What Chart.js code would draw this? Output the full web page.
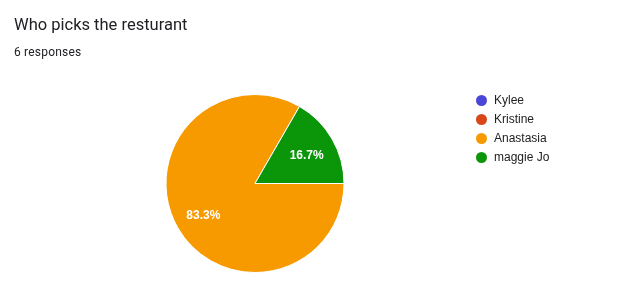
<!DOCTYPE html>
<html>
<head>
<meta charset="utf-8">
<script src="https://cdn.jsdelivr.net/npm/chart.js@4"></script>
<style>
  html, body { margin: 0; padding: 0; background: #fff; }
  #wrap { position: relative; width: 619px; height: 299px; }
  #title { position: absolute; left: 14px; top: 15px; font: 400 16.5px Roboto, Arial, sans-serif; color: #202124; }
  #sub { position: absolute; left: 14px; top: 45px; font: 400 12px Roboto, Arial, sans-serif; color: #202124; letter-spacing: 0.2px; }
  canvas { position: absolute; left: 0; top: 0; }
</style>
</head>
<body>
<div id="wrap">
  <canvas id="pie" width="619" height="299"></canvas>
  <div id="title">Who picks the resturant</div>
  <div id="sub">6 responses</div>
</div>
<script>
const names = ['Kylee', 'Kristine', 'Anastasia', 'maggie Jo'];
const votes = [0, 0, 5, 1];
const colours = ['#4b47d6', '#d9461a', '#f69a00', '#0b9509'];

// percentages drawn on the slices
const sliceText = {
  id: 'sliceText',
  afterDatasetsDraw(chart) {
    const ctx = chart.ctx;
    const total = votes.reduce((a, b) => a + b, 0);
    const meta = chart.getDatasetMeta(0);
    ctx.save();
    ctx.fillStyle = '#fff';
    ctx.font = 'bold 12px "Liberation Sans", Arial, sans-serif';
    ctx.textAlign = 'center';
    ctx.textBaseline = 'middle';
    meta.data.forEach((arc, i) => {
      if (!votes[i]) return;
      const mid = (arc.startAngle + arc.endAngle) / 2;
      const r = arc.outerRadius * 0.67;
      ctx.fillText((votes[i] / total * 100).toFixed(1) + '%', arc.x + Math.cos(mid) * r, arc.y + Math.sin(mid) * r + 2.5);
    });
    ctx.restore();
  }
};

// legend on the right, like the forms summary
const sideLegend = {
  id: 'sideLegend',
  afterDraw(chart) {
    const ctx = chart.ctx;
    ctx.save();
    ctx.font = '12px "Liberation Sans", Arial, sans-serif';
    ctx.textBaseline = 'middle';
    chart.data.labels.forEach((lab, i) => {
      const y = 100.5 + i * 19;
      ctx.fillStyle = colours[i];
      ctx.beginPath();
      ctx.arc(481.5, y, 5.5, 0, Math.PI * 2);
      ctx.fill();
      ctx.fillStyle = '#222';
      ctx.fillText(lab, 494, y + 0.5);
    });
    ctx.restore();
  }
};

new Chart(document.getElementById('pie'), {
  type: 'pie',
  data: {
    labels: names,
    datasets: [{
      data: votes,
      backgroundColor: colours,
      borderColor: '#fff',
      borderWidth: 1
    }]
  },
  options: {
    responsive: false,
    animation: false,
    rotation: 90,
    layout: { padding: { left: 165, right: 274, top: 94, bottom: 26 } },
    plugins: {
      legend: { display: false },
      tooltip: { enabled: false }
    }
  },
  plugins: [sliceText, sideLegend]
});
</script>
</body>
</html>
